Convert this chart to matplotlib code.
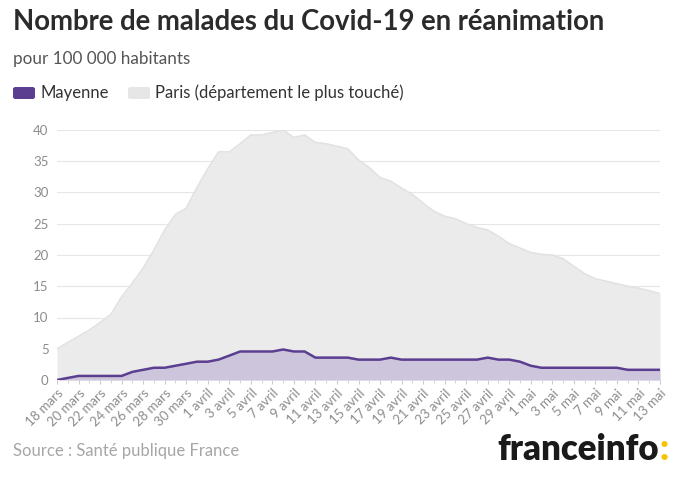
import matplotlib
matplotlib.use("Agg")
import matplotlib.pyplot as plt
import matplotlib.patches as mpatches

days_mars = list(range(18, 32))
days_avril = list(range(1, 31))
days_mai = list(range(1, 14))
dates = [f"{d} mars" for d in days_mars] + [f"{d} avril" for d in days_avril] + [f"{d} mai" for d in days_mai]

paris = [5.0, 6.0, 7.0, 8.0, 9.2, 10.5, 13.3, 15.5, 17.9, 20.8, 24.0, 26.5, 27.5, 30.8,
         33.8, 36.5, 36.5, 37.8, 39.2, 39.2, 39.6, 40.0, 38.8, 39.2, 38.0, 37.8, 37.4, 37.0,
         35.2, 34.0, 32.4, 31.8, 30.7, 29.7, 28.3, 27.0, 26.2, 25.8, 25.0, 24.4, 24.0, 23.0,
         21.8, 21.1, 20.4, 20.1, 20.0, 19.4, 18.2, 17.0, 16.2, 15.8, 15.4, 15.0, 14.7, 14.3, 13.8]

mayenne = [0.0, 0.33, 0.65, 0.65, 0.65, 0.65, 0.65, 1.3, 1.63, 1.96, 1.96, 2.28, 2.6, 2.93,
           2.93, 3.26, 3.9, 4.56, 4.56, 4.56, 4.56, 4.88, 4.56, 4.56, 3.58, 3.58, 3.58, 3.58,
           3.26, 3.26, 3.26, 3.58, 3.26, 3.26, 3.26, 3.26, 3.26, 3.26, 3.26, 3.26, 3.58, 3.26,
           3.26, 2.93, 2.28, 1.96, 1.96, 1.96, 1.96, 1.96, 1.96, 1.96, 1.96, 1.63, 1.63, 1.63, 1.63]

yticks = [0, 5, 10, 15, 20, 25, 30, 35, 40]

FONT = ["Lato", "DejaVu Sans"]
plt.rcParams["font.family"] = FONT

fig = plt.figure(figsize=(6.8, 4.8), dpi=100)
ax = fig.add_axes([57/680, 1-380/480, (660-57)/680, (380-130)/480])

x = list(range(len(dates)))
paris_col = "#ebebeb"
may_line = "#5b3e90"
may_fill = "#cdc5db"

ax.fill_between(x, paris, 0, color=paris_col, lw=0, zorder=2)
ax.plot(x, paris, color="#e2e2e2", lw=1.2, zorder=2)
ax.fill_between(x, mayenne, 0, color=may_fill, lw=0, zorder=3)
ax.plot(x, mayenne, color=may_line, lw=1.8, zorder=4, solid_joinstyle="round")

ax.set_xlim(0, len(dates)-1)
ax.set_ylim(0, 40)
ax.set_yticks(yticks)
ax.set_yticklabels([str(v) for v in yticks])
ax.grid(axis="y", color="#e6e6e6", lw=0.8, zorder=1)
for s in ax.spines.values():
    s.set_visible(False)
ax.tick_params(axis="y", length=0, pad=6, labelsize=9.5, labelcolor="#8c8c8c")

ax.set_xticks(x[::2])
ax.set_xticklabels(dates[::2], rotation=45, ha="right", rotation_mode="anchor")
ax.set_xticks(x, minor=True)
ax.tick_params(axis="x", which="both", length=3, color="#cccccc", labelsize=9.5,
               labelcolor="#8c8c8c", pad=2)
ax.tick_params(axis="x", which="minor", length=2)

# Title and subtitle
fig.text(13/680, 1-22/480, "Nombre de malades du Covid-19 en réanimation", fontsize=19.8,
         fontweight="bold", color="#2b2b2b", va="center", ha="left")
fig.text(13/680, 1-59/480, "pour 100 000 habitants", fontsize=12.3, color="#555555",
         va="center", ha="left")

# Legend
fig.patches.append(mpatches.FancyBboxPatch((13/680, 1-99/480), 22/680, 12/480,
                   boxstyle="round,pad=0,rounding_size=0.004", transform=fig.transFigure,
                   color=may_line, lw=0))
fig.text(41/680, 1-93/480, "Mayenne", fontsize=12, color="#333333", va="center", ha="left")
fig.patches.append(mpatches.FancyBboxPatch((128/680, 1-99/480), 22/680, 12/480,
                   boxstyle="round,pad=0,rounding_size=0.004", transform=fig.transFigure,
                   color="#e6e6e6", lw=0))
fig.text(155/680, 1-93/480, "Paris (département le plus touché)", fontsize=12,
         color="#333333", va="center", ha="left")

# Source
fig.text(13/680, 1-451/480, "Source : Santé publique France", fontsize=12,
         color="#a6a6a6", va="center", ha="left")

# Logo
t = fig.text(497/680, 1-449/480, "franceinfo", fontsize=25, fontweight="heavy",
             color="#1a1a1a", va="center", ha="left")
fig.canvas.draw()
bb = t.get_window_extent()
fig.text(bb.x1/680 + 0.001, 1-449/480, ":", fontsize=25, fontweight="heavy",
         color="#f5c400", va="center", ha="left")

fig.savefig("out.png", dpi=100)
